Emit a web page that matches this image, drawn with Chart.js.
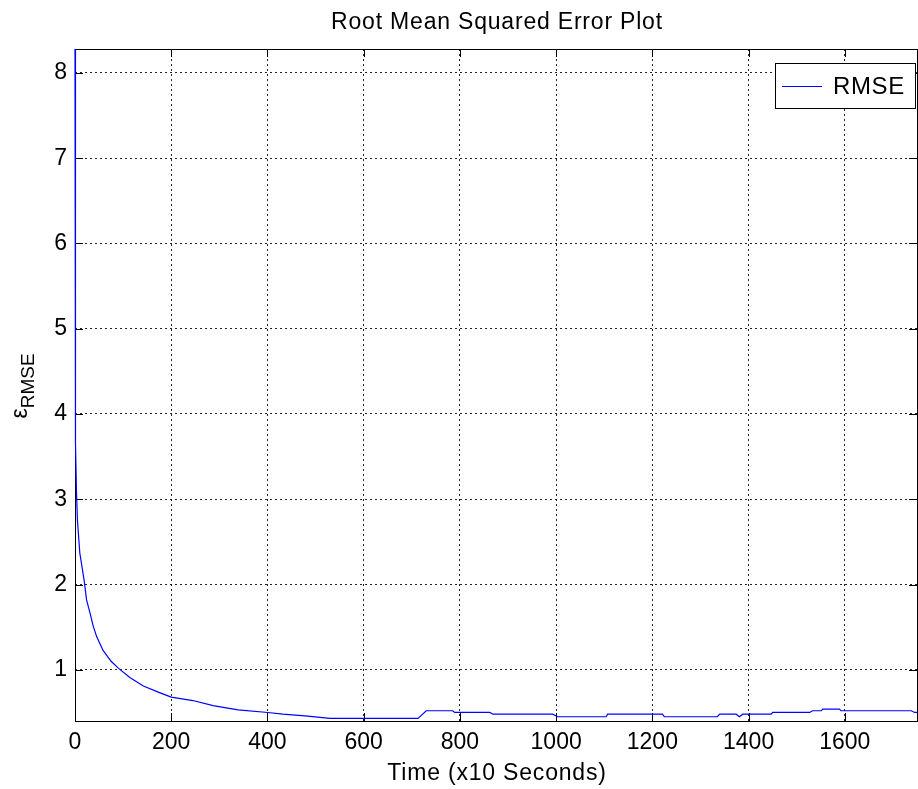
<!DOCTYPE html>
<html>
<head>
<meta charset="utf-8">
<script src="https://cdn.jsdelivr.net/npm/chart.js@4/dist/chart.umd.min.js"></script>
<style>
  html, body { margin: 0; padding: 0; background: #fff; }
  #wrap { width: 918px; height: 789px; }
</style>
</head>
<body>
<div id="wrap"><canvas id="rmseChart" width="918" height="789"></canvas></div>
<script>
const timeSteps = [0, 1, 3, 5, 10, 19, 24, 31, 38, 45, 58, 75, 90, 114, 142, 177, 200, 245, 287, 339, 401, 432, 478, 530, 713, 730, 785, 789, 862, 869, 993, 1003, 1104, 1107, 1221, 1225, 1335, 1340, 1374, 1381, 1388, 1447, 1450, 1527, 1533, 1551, 1554, 1589, 1592, 1738, 1745, 1750]
const rmseValues = [8.28, 3.66, 3.1, 2.76, 2.37, 2.05, 1.82, 1.67, 1.51, 1.39, 1.23, 1.1, 1.02, 0.91, 0.81, 0.73, 0.68, 0.64, 0.58, 0.53, 0.5, 0.48, 0.46, 0.43, 0.43, 0.52, 0.52, 0.5, 0.5, 0.48, 0.48, 0.45, 0.45, 0.48, 0.48, 0.45, 0.45, 0.48, 0.48, 0.45, 0.48, 0.48, 0.5, 0.5, 0.52, 0.52, 0.54, 0.54, 0.52, 0.52, 0.5, 0.5]
const xTicks = [0, 200, 400, 600, 800, 1000, 1200, 1400, 1600]
const yTicks = [1, 2, 3, 4, 5, 6, 7, 8]

const FONT = "'Liberation Sans', Arial, Helvetica, sans-serif"

// frame box + inward tick marks, like a matlab axes
const framePlugin = {
    id: "frame",
    beforeDatasetsDraw(chart) {
        const { ctx, chartArea: a, scales } = chart
        ctx.save()
        ctx.strokeStyle = "#000"
        ctx.lineWidth = 1
        ctx.beginPath()
        xTicks.forEach((v) => {
            const px = Math.round(scales.x.getPixelForValue(v)) + 0.5
            ctx.moveTo(px, a.bottom)
            ctx.lineTo(px, a.bottom - 8)
            ctx.moveTo(px, a.top)
            ctx.lineTo(px, a.top + 8)
        })
        yTicks.forEach((v) => {
            const py = Math.round(scales.y.getPixelForValue(v)) + 0.5
            ctx.moveTo(a.left, py)
            ctx.lineTo(a.left + 8, py)
            ctx.moveTo(a.right, py)
            ctx.lineTo(a.right - 8, py)
        })
        ctx.stroke()
        ctx.strokeRect(Math.round(a.left) + 0.5, Math.round(a.top) + 0.5, Math.round(a.right - a.left), Math.round(a.bottom - a.top))
        ctx.restore()
    },
    afterDraw(chart) {
        const { ctx } = chart
        ctx.save()
        ctx.fillStyle = "#000"

        // title
        ctx.font = "23px " + FONT
        ctx.letterSpacing = "0.8px"
        ctx.textAlign = "center"
        ctx.textBaseline = "alphabetic"
        ctx.fillText("Root Mean Squared Error Plot", 497, 29)

        // x title
        ctx.fillText("Time (x10 Seconds)", 497, 780)
        ctx.letterSpacing = "0px"

        // y title, epsilon with subscript
        ctx.translate(27, 386)
        ctx.rotate(-Math.PI / 2)
        ctx.textAlign = "left"
        ctx.font = "23px " + FONT
        const epsW = ctx.measureText("ε").width
        ctx.font = "19px " + FONT
        const subW = ctx.measureText("RMSE").width
        const start = -(epsW + subW) / 2
        ctx.font = "23px " + FONT
        ctx.fillText("ε", start, 0)
        ctx.font = "19px " + FONT
        ctx.fillText("RMSE", start + epsW, 7)
        ctx.setTransform(1, 0, 0, 1, 0, 0)

        // legend
        const box = { l: 775, t: 63, r: 915, b: 108 }
        ctx.fillStyle = "#fff"
        ctx.fillRect(box.l, box.t, box.r - box.l, box.b - box.t)
        ctx.strokeStyle = "#000"
        ctx.lineWidth = 1
        ctx.strokeRect(box.l + 0.5, box.t + 0.5, box.r - box.l, box.b - box.t)
        ctx.strokeStyle = "#0000ff"
        ctx.beginPath()
        ctx.moveTo(782, 86.5)
        ctx.lineTo(822, 86.5)
        ctx.stroke()
        ctx.fillStyle = "#000"
        ctx.font = "24px " + FONT
        ctx.letterSpacing = "0.6px"
        ctx.textAlign = "left"
        ctx.textBaseline = "middle"
        ctx.fillText("RMSE", 833, 87)
        ctx.restore()
    },
}

const chart = new Chart(document.getElementById("rmseChart"), {
    type: "line",
    data: {
        datasets: [
            {
                label: "RMSE",
                data: timeSteps.map((t, i) => ({ x: t, y: rmseValues[i] })),
                borderColor: "#0000ff",
                borderWidth: 1.2,
                pointRadius: 0,
                tension: 0,
                fill: false,
                clip: 2,
            },
        ],
    },
    plugins: [framePlugin],
    options: {
        responsive: false,
        animation: false,
        devicePixelRatio: 1,
        layout: { padding: { top: 49, right: 1, left: 0, bottom: 0 } },
        plugins: {
            legend: { display: false },
            title: { display: false },
            tooltip: { enabled: false },
        },
        scales: {
            x: {
                type: "linear",
                min: 0,
                max: 1750,
                afterBuildTicks: (scale) => {
                    scale.ticks = xTicks.map((v) => ({ value: v }))
                },
                afterFit: (scale) => {
                    scale.height = 68
                },
                grid: { color: "rgba(0,0,0,0.85)", drawTicks: false, lineWidth: 1 },
                border: { display: false, dash: [2, 3] },
                ticks: {
                    color: "#000",
                    font: { family: FONT, size: 23 },
                    padding: 8,
                    maxRotation: 0,
                    autoSkip: false,
                    callback: (value) => String(value),
                },
            },
            y: {
                type: "linear",
                min: 0.4,
                max: 8.28,
                afterBuildTicks: (scale) => {
                    scale.ticks = yTicks.map((v) => ({ value: v }))
                },
                afterFit: (scale) => {
                    scale.width = 75
                },
                grid: { color: "rgba(0,0,0,0.85)", drawTicks: false, lineWidth: 1 },
                border: { display: false, dash: [2, 3] },
                ticks: {
                    color: "#000",
                    font: { family: FONT, size: 23 },
                    padding: 8,
                    autoSkip: false,
                    callback: (value) => String(value),
                },
            },
        },
    },
})
</script>
</body>
</html>
